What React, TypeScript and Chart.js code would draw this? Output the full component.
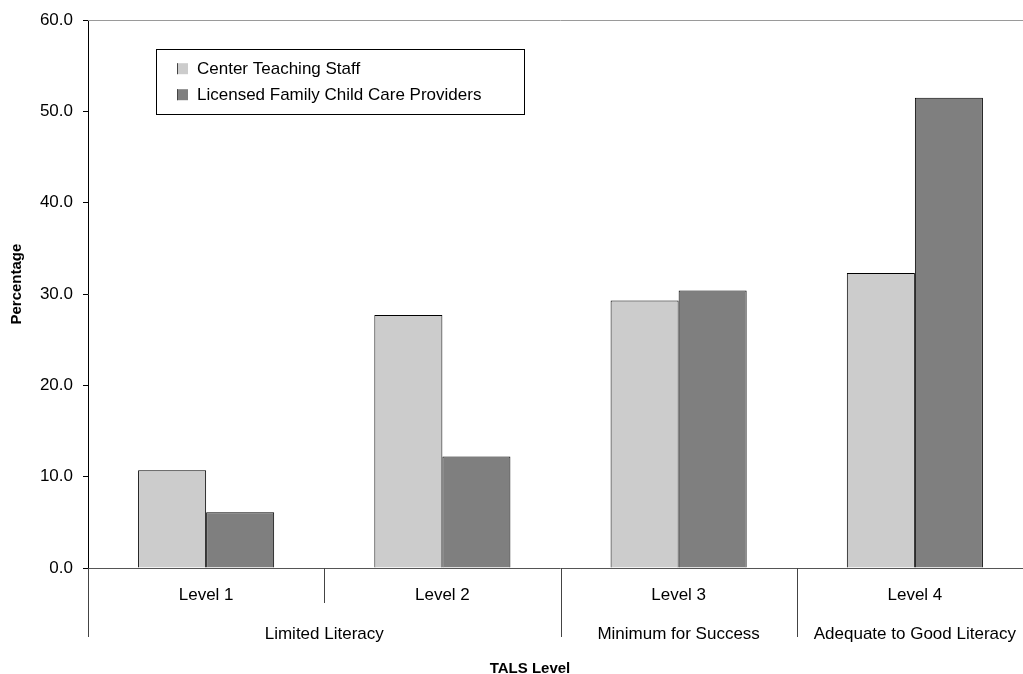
import React, { useEffect, useRef } from "react";
import { Chart, registerables } from "chart.js";

Chart.register(...registerables);

const categories = ["Level 1", "Level 2", "Level 3", "Level 4"];
const centerTeachingStaff = [10.7, 27.7, 29.3, 32.3];
const familyChildCare = [6.1, 12.2, 30.4, 51.5];
const seriesNames = ["Center Teaching Staff", "Licensed Family Child Care Providers"];
const groupLabels = ["Limited Literacy", "Minimum for Success", "Adequate to Good Literacy"];
const groupSizes = [2, 1, 1];
const yMin = 0;
const yMax = 60;
const yStep = 10;
const xTitle = "TALS Level";
const yTitle = "Percentage";

const FONT = "'Liberation Sans', Arial, sans-serif";

const overlayPlugin = {
  id: "overlay",
  afterDraw(chart: any) {
    const ctx = chart.ctx;
    const area = chart.chartArea;
    const x = chart.scales.x;
    ctx.save();
    // top border of plot area
    ctx.strokeStyle = "#9a9a9a";
    ctx.lineWidth = 1;
    ctx.beginPath();
    ctx.moveTo(area.left, Math.round(area.top) + 0.5);
    ctx.lineTo(area.right, Math.round(area.top) + 0.5);
    ctx.stroke();
    // x axis line
    const by = Math.round(area.bottom) + 0.5;
    ctx.strokeStyle = "#555";
    ctx.beginPath();
    ctx.moveTo(area.left, by);
    ctx.lineTo(area.right, by);
    ctx.stroke();

    const n = categories.length;
    const half = (x.getPixelForValue(1) - x.getPixelForValue(0)) / 2;
    const bound = (i: number) => x.getPixelForValue(i) - half;

    // category labels
    ctx.fillStyle = "#000";
    ctx.font = `17px ${FONT}`;
    ctx.textAlign = "center";
    ctx.textBaseline = "middle";
    categories.forEach((c, i) => {
      ctx.fillText(c, x.getPixelForValue(i), area.bottom + 27);
    });

    // group boundaries and labels
    const groupStarts: number[] = [];
    let idx = 0;
    groupSizes.forEach((s) => {
      groupStarts.push(idx);
      idx += s;
    });
    ctx.strokeStyle = "#444";
    for (let i = 0; i < n; i++) {
      const px = Math.round(bound(i)) + 0.5;
      const isGroup = groupStarts.includes(i);
      ctx.beginPath();
      ctx.moveTo(px, area.bottom);
      ctx.lineTo(px, area.bottom + (isGroup ? 69 : 35));
      ctx.stroke();
    }
    groupLabels.forEach((g, gi) => {
      const s = groupStarts[gi];
      const e = s + groupSizes[gi];
      const cx = (bound(s) + bound(e)) / 2;
      ctx.fillText(g, cx, area.bottom + 66);
    });

    // axis titles
    ctx.font = `bold 15px ${FONT}`;
    ctx.fillText(xTitle, chart.width / 2, area.bottom + 101);
    ctx.save();
    ctx.translate(17, (area.top + area.bottom) / 2 - 10);
    ctx.rotate(-Math.PI / 2);
    ctx.fillText(yTitle, 0, 0);
    ctx.restore();

    // legend
    const lx = area.left + 68;
    const ly = area.top + 29;
    const lw = 368;
    const lh = 65;
    ctx.fillStyle = "#fff";
    ctx.fillRect(lx, ly, lw, lh);
    ctx.strokeStyle = "#000";
    ctx.strokeRect(Math.round(lx) + 0.5, Math.round(ly) + 0.5, lw, lh);
    ctx.font = `17px ${FONT}`;
    ctx.textAlign = "left";
    chart.data.datasets.forEach((ds: any, i: number) => {
      const cy = ly + 19 + i * 26;
      ctx.fillStyle = ds.backgroundColor;
      ctx.fillRect(lx + 21, cy - 5, 11, 11);
      ctx.strokeStyle = "#444";
      ctx.beginPath();
      ctx.moveTo(lx + 21.5, cy - 5);
      ctx.lineTo(lx + 21.5, cy + 6);
      ctx.stroke();
      ctx.fillStyle = "#000";
      ctx.fillText(ds.label, lx + 41, cy + 1);
    });
    ctx.restore();
  },
};

export default function App() {
  const ref = useRef<HTMLCanvasElement>(null);
  useEffect(() => {
    if (!ref.current) return;
    const chart = new Chart(ref.current, {
      type: "bar",
      data: {
        labels: categories,
        datasets: [
          {
            label: seriesNames[0],
            data: centerTeachingStaff,
            backgroundColor: "#cccccc",
            borderColor: "#000",
            borderWidth: 1,
            barPercentage: 1,
            categoryPercentage: 0.576,
          },
          {
            label: seriesNames[1],
            data: familyChildCare,
            backgroundColor: "#7f7f7f",
            borderColor: "#000",
            borderWidth: 1,
            barPercentage: 1,
            categoryPercentage: 0.576,
          },
        ],
      },
      options: {
        responsive: false,
        animation: false,
        layout: { padding: { top: 17, right: 27, bottom: 106, left: 0 } },
        plugins: { legend: { display: false }, tooltip: { enabled: false } },
        scales: {
          x: { display: false },
          y: {
            min: yMin,
            max: yMax,
            afterFit: (s: any) => {
              s.width = 88;
            },
            ticks: {
              stepSize: yStep,
              color: "#000",
              font: { family: FONT, size: 17 },
              padding: 10,
              callback: (v: any) => Number(v).toFixed(1),
            },
            grid: { drawOnChartArea: false, tickLength: 5, color: "#000" },
            border: { display: true, color: "#000", width: 1 },
          },
        },
      },
      plugins: [overlayPlugin],
    });
    return () => chart.destroy();
  }, []);
  return (
    <div
      style={{
        position: "fixed",
        left: 0,
        top: 0,
        width: 1023,
        height: 674,
        overflow: "hidden",
        background: "#fff",
      }}
    >
      <canvas ref={ref} width={1060} height={674} style={{ display: "block" }} />
    </div>
  );
}
